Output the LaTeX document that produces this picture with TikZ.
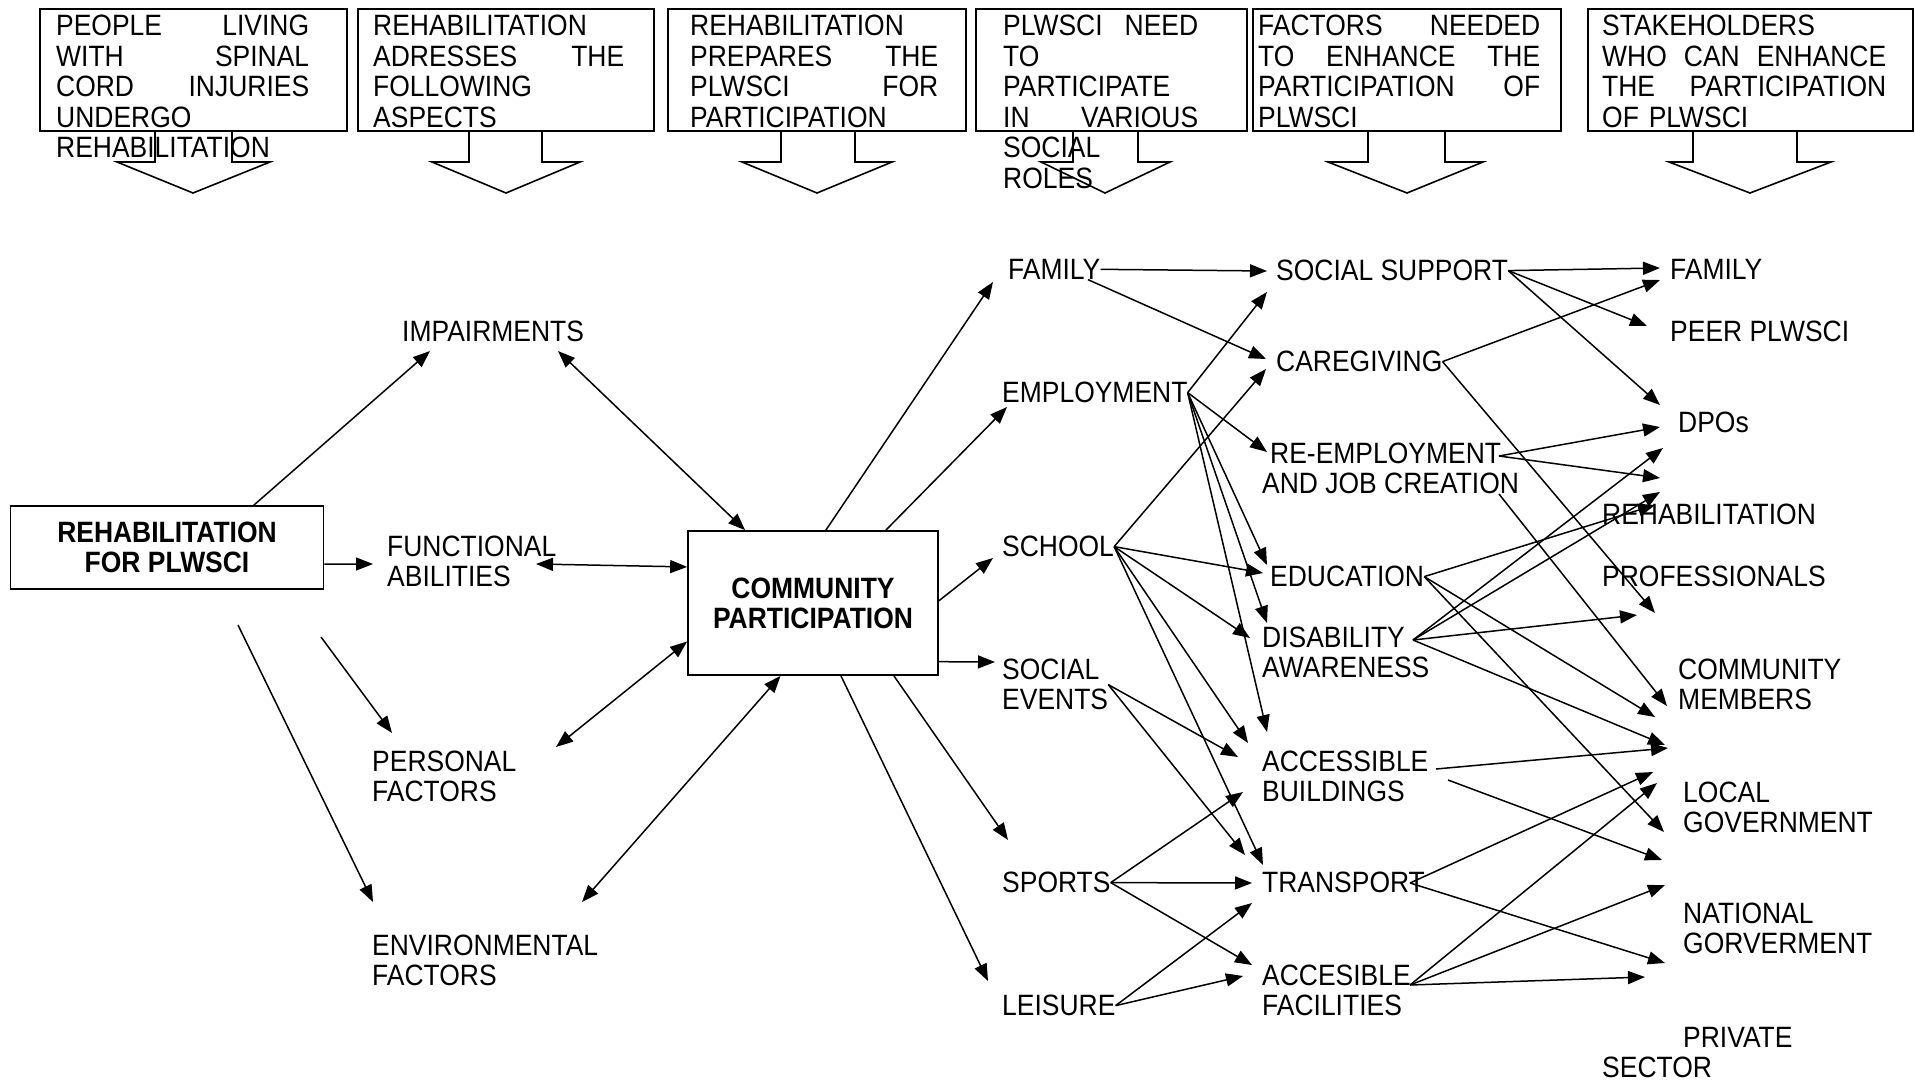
\documentclass[tikz,border=0pt]{standalone}
\usepackage{fontspec}
\setmainfont{Liberation Sans}[FakeStretch=0.9]
\usetikzlibrary{arrows.meta}
\setlength\parindent{0pt}

\tikzset{
  lbl/.style={inner sep=0pt, anchor=north west, align=left,
    font={\fontsize{29.4}{30}\selectfont}},
  headtxt/.style={inner sep=0pt, anchor=north west, align=left,
    font={\fontsize{29.4}{30.5}\selectfont}},
  mainbox/.style={draw, line width=1.7pt, inner sep=0pt, align=center,
    font={\fontsize{29.4}{30}\selectfont\bfseries}},
  arr/.style={line width=1.5pt, -{Triangle[length=17pt,width=13pt]}},
  dblarr/.style={line width=1.5pt,
    {Triangle[length=17pt,width=13pt]}-{Triangle[length=17pt,width=13pt]}},
}

\begin{document}
\begin{tikzpicture}[x=1pt,y=-1pt]
\useasboundingbox (0,0) rectangle (1915,1082);

% The callouts along the top
\foreach \l/\r/\sl/\sr/\bl/\br/\tp in {40/347/155/232/117/270/193,
    358/654/469/542/432/580/506, 668/966/781/855/742/892/817,
    976/1247/1073/1138/1041/1170/1105, 1253/1561/1368/1445/1328/1483/1407,
    1588/1913/1693/1797/1669/1831/1750}{
\draw[line width=1.6pt] (\l,9) rectangle (\r,131);
\draw[line width=1.6pt] (\sl,131) -- (\sl,162) -- (\bl,162) -- (\tp,193)
    -- (\br,162) -- (\sr,162) -- (\sr,131);
}

\node[headtxt, text width=253pt] (hd1) at (56,15)
  {PEOPLE\hfill LIVING\\WITH\hfill SPINAL\\CORD\hfill INJURIES\\UNDERGO\\REHABILITATION};
\node[headtxt, text width=251pt] (hd2) at (373,15)
  {REHABILITATION\\ADRESSES\hfill THE\\FOLLOWING\\ASPECTS};
\node[headtxt, text width=248pt] (hd3) at (690,15)
  {REHABILITATION\\PREPARES\hfill THE\\PLWSCI\hfill FOR\\PARTICIPATION};
\node[headtxt, text width=195pt] (hd4) at (1003,15)
  {PLWSCI\hfill NEED\\TO\\PARTICIPATE\\IN\hfill VARIOUS\\SOCIAL\\ROLES};
\node[headtxt, text width=282pt] (hd5) at (1258,15)
  {FACTORS\hfill NEEDED\\TO\hfill ENHANCE\hfill THE\\PARTICIPATION\hfill OF\\PLWSCI};
\node[headtxt, text width=284pt] (hd6) at (1602,15)
  {STAKEHOLDERS\\WHO\hfill CAN\hfill ENHANCE\\THE\hfill PARTICIPATION\\OF PLWSCI};

% The two boxes
\node[mainbox, minimum width=313pt, minimum height=83pt] (rehab) at (167,547.5)
  {REHABILITATION\\FOR PLWSCI};
\node[mainbox, minimum width=250pt, minimum height=144pt] (com) at (813,603)
  {COMMUNITY\\PARTICIPATION};

% Aspects
\node[lbl] (imp) at (402,321) {IMPAIRMENTS};
\node[lbl] (fun) at (387,536) {FUNCTIONAL\\ABILITIES};
\node[lbl] (pers) at (372,751) {PERSONAL\\FACTORS};
\node[lbl] (env) at (372,935) {ENVIRONMENTAL\\FACTORS};

% Social roles
\node[lbl] (famB) at (1008,259) {FAMILY};
\node[lbl] (emp) at (1002,382) {EMPLOYMENT};
\node[lbl] (sch) at (1002,536) {SCHOOL};
\node[lbl] (soc) at (1002,659) {SOCIAL\\EVENTS};
\node[lbl] (spo) at (1002,872) {SPORTS};
\node[lbl] (lei) at (1002,995) {LEISURE};

% Factors
\node[lbl] (ss) at (1276,260) {SOCIAL SUPPORT};
\node[lbl] (care) at (1276,351) {CAREGIVING};
\node[lbl] (reemp) at (1262,443) {\hspace*{8pt}RE-EMPLOYMENT\\AND JOB CREATION};
\node[lbl] (edu) at (1270,566) {EDUCATION};
\node[lbl] (dis) at (1262,627) {DISABILITY\\AWARENESS};
\node[lbl] (accb) at (1262,751) {ACCESSIBLE\\BUILDINGS};
\node[lbl] (tra) at (1262,872) {TRANSPORT};
\node[lbl] (accf) at (1262,965) {ACCESIBLE\\FACILITIES};

% Stakeholders
\node[lbl] (famC) at (1670,259) {FAMILY};
\node[lbl] (peer) at (1670,321) {PEER PLWSCI};
\node[lbl] (dpo) at (1678,412) {DPOs};
\node[lbl] (rehp) at (1602,504) {REHABILITATION\\[32pt]PROFESSIONALS};
\node[lbl] (comm) at (1678,659) {COMMUNITY\\MEMBERS};
\node[lbl] (loc) at (1683,782) {LOCAL\\GOVERNMENT};
\node[lbl] (nat) at (1683,903) {NATIONAL\\GORVERMENT};
\node[lbl] (priv) at (1602,1027) {\hspace*{81pt}PRIVATE\\SECTOR};

% free arrow ends
\foreach \n/\x/\y in {rpS/321/637, reS/238/625, impIn/430/351, funIn/373/564,
    persIn/392/733, envIn/373/902, impB/558/351, funB/536/564, persB/556/747,
    envB/582/902, famIn/993/282, empIn/1007/407, schIn/993/558, socIn/995/662,
    spoIn/1008/840, leiIn/988/981}
  \coordinate (\n) at (\x,\y);
\foreach \n/\x/\y in {ssIn1/1267/271, ssIn2/1267/292, careIn1/1266/359,
    careIn2/1266/369, reempIn/1267/452, eduIn1/1267/565, eduIn2/1263/573,
    disIn1/1267/623, disIn2/1250/638, accbIn1/1267/732, accbIn2/1248/743,
    accbIn3/1238/757, accbIn4/1243/792, traIn1/1263/865, traIn2/1245/855,
    traIn3/1252/883, traIn4/1252/903, accfIn1/1252/965, accfIn2/1243/976}
  \coordinate (\n) at (\x,\y);
\foreach \n/\x/\y in {reempOut/1499/456, jobOut/1499/494, disOut/1413/640,
    accbOut/1436/769, bldOut/1448/780, traOut/1410/883, accfOut/1410/985}
  \coordinate (\n) at (\x,\y);
\foreach \n/\x/\y in {famCIn1/1660/268, famCIn2/1660/280, peerIn/1647/326,
    dpoIn1/1660/405, dpoIn2/1660/427, dpoIn3/1663/448, dpoIn4/1660/478,
    rehIn1/1660/492, rehIn2/1655/505, profIn1/1655/613, profIn2/1637/615,
    commIn1/1667/706, commIn2/1655/717, commIn3/1665/745, commIn4/1668/748,
    locIn1/1653/772, locIn2/1657/783, locIn3/1664/832, natIn1/1662/860,
    natIn2/1665/885, natIn3/1665/963, privIn/1645/977}
  \coordinate (\n) at (\x,\y);

% rehabilitation -> aspects -> participation
\foreach \a/\b in {rehab.26/impIn, rehab.-6/funIn, rpS/persIn, reS/envIn}
  \draw[arr] (\a) -- (\b);
\foreach \a/\b in {impB/com.133, funB/com.164, persB/com.197, envB/com.246}
  \draw[dblarr] (\a) -- (\b);
\foreach \a/\b in {com.80/famIn, com.45/empIn, com.1/schIn, com.-25/socIn,
    com.-42/spoIn, com.-69/leiIn}
  \draw[arr] (\a) -- (\b);

% roles -> factors
\foreach \a/\b in {famB.east/ssIn1, famB.-17/careIn1,
    emp.east/ssIn2, emp.east/reempIn, emp.east/eduIn1, emp.east/disIn1, emp.east/accbIn1,
    sch.east/careIn2, sch.east/eduIn2, sch.east/disIn2, sch.east/accbIn2, sch.east/traIn1,
    soc.east/accbIn3, soc.east/traIn2,
    spo.east/accbIn4, spo.east/traIn3, spo.east/accfIn1,
    lei.east/traIn4, lei.east/accfIn2}
  \draw[arr] (\a) -- (\b);

% factors -> stakeholders
\foreach \a/\b in {ss.east/famCIn1, ss.east/peerIn, ss.east/dpoIn1,
    care.east/famCIn2, care.east/profIn1,
    reempOut/dpoIn2, reempOut/dpoIn4, jobOut/commIn1,
    edu.east/rehIn2, edu.east/commIn2, edu.east/locIn3,
    disOut/dpoIn3, disOut/rehIn1, disOut/profIn2, disOut/commIn3,
    accbOut/commIn4, bldOut/natIn1,
    traOut/locIn1, traOut/natIn3,
    accfOut/locIn2, accfOut/natIn2, accfOut/privIn}
  \draw[arr] (\a) -- (\b);

\end{tikzpicture}
\end{document}
